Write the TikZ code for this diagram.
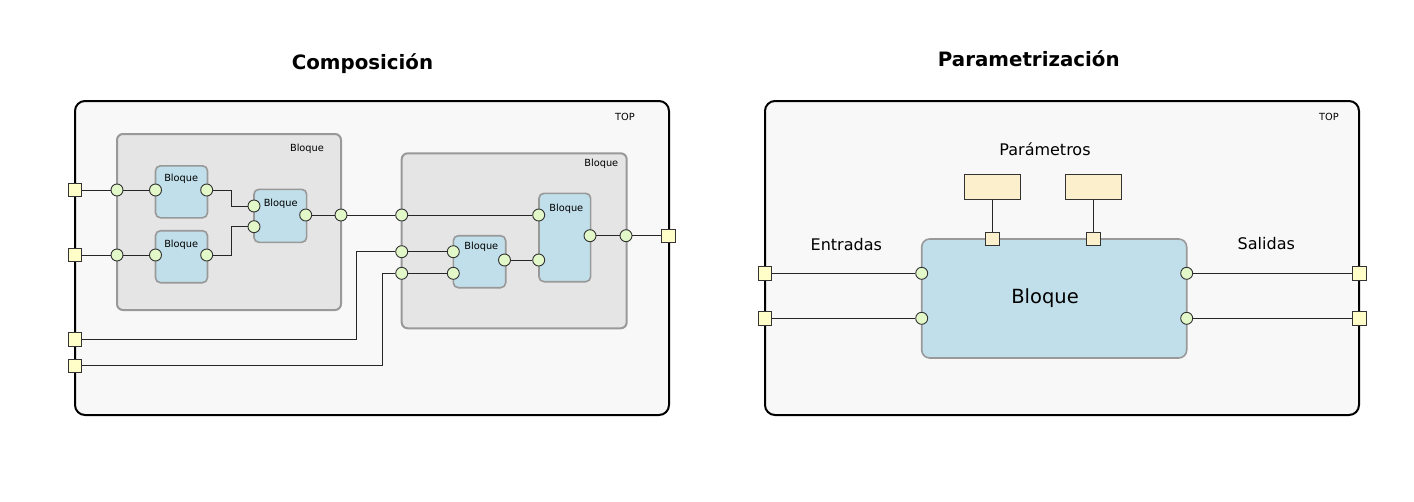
\documentclass[tikz,border=0pt]{standalone}
\usepackage{fontspec}
\setmainfont{DejaVu Sans}
\usepackage{tikz}
\definecolor{TopFill}{RGB}{248,248,248}
\definecolor{BlkFill}{RGB}{229,229,229}
\definecolor{SubFill}{RGB}{193,223,234}
\definecolor{PinFill}{RGB}{226,248,200}
\definecolor{PadFill}{RGB}{255,253,200}
\definecolor{PrmFill}{RGB}{252,239,204}
\definecolor{EdgeGray}{RGB}{153,153,153}

\begin{document}
\begin{tikzpicture}[x=1pt,y=-1pt,
  top/.style 2 args={rectangle,draw=black,line width=2pt,fill=TopFill,rounded corners=10pt,minimum width=#1pt,minimum height=#2pt,inner sep=0pt},
  blk/.style 2 args={rectangle,draw=EdgeGray,line width=2pt,fill=BlkFill,rounded corners=6pt,minimum width=#1pt,minimum height=#2pt,inner sep=0pt},
  sub/.style 2 args={rectangle,draw=EdgeGray,line width=1.6pt,fill=SubFill,rounded corners=5pt,minimum width=#1pt,minimum height=#2pt,inner sep=0pt},
  pin/.style={circle,draw=black!80,line width=0.9pt,fill=PinFill,minimum size=12pt,inner sep=0pt},
  pad/.style={rectangle,draw=black!80,line width=0.9pt,fill=PadFill,minimum size=13.5pt,inner sep=0pt},
  knob/.style={pad,fill=PrmFill},
  prm/.style={rectangle,draw=black!80,line width=0.9pt,fill=PrmFill,minimum width=56pt,minimum height=25pt,inner sep=0pt},
  wire/.style={draw=black!85,line width=1pt},
  ttl/.style={font=\fontsize{19.8}{23}\selectfont\bfseries,inner sep=0pt,anchor=base},
  txt/.style={font=\fontsize{16}{19}\selectfont,inner sep=0pt,anchor=base},
  big/.style={font=\fontsize{19.5}{22}\selectfont,inner sep=0pt,anchor=base},
  tag/.style={font=\fontsize{9.8}{12}\selectfont,inner sep=0pt,anchor=base}]
\useasboundingbox (0,0) rectangle (1414,501);

% titles
\node[ttl] (ttlA) at (362.5,69.3) {Composición};
\node[ttl] (ttlB) at (1028.8,66.7) {Parametrización};

%%% Composicion
\node[top={594}{314}] (topA) at (372,258) {};
\node[tag] (topAl) at (625,120) {TOP};
\node[blk={224}{176}] (g1) at (229,222) {};
\node[tag] (g1l) at (307,151) {Bloque};
\node[blk={225}{175}] (g2) at (514.2,240.8) {};
\node[tag] (g2l) at (601.3,166.7) {Bloque};
\node[sub={52}{52}] (b1) at (181.5,191.8) {};
\node[tag] (b1l) at (181.2,181.7) {Bloque};
\node[sub={52}{52}] (b2) at (181.5,256.7) {};
\node[tag] (b2l) at (181.2,247.3) {Bloque};
\node[sub={52.7}{53}] (b3) at (280.3,215.8) {};
\node[tag] (b3l) at (280.7,206.7) {Bloque};
\node[sub={52.4}{52}] (b4) at (479.5,261.7) {};
\node[tag] (b4l) at (481.3,249.3) {Bloque};
\node[sub={51.7}{88.4}] (b5) at (564.8,237.5) {};
\node[tag] (b5l) at (566.3,211.3) {Bloque};

\coordinate (k1) at (231,0);
\coordinate (k2) at (356,0);
\coordinate (k3) at (382,0);

\node[pad] (pA1) at (75,190) {};
\node[pad] (pA2) at (75,255) {};
\node[pad] (pA3) at (75,339.3) {};
\node[pad] (pA4) at (75,365.7) {};
\node[pad] (pA5) at (668.5,235.7) {};
\node[pin] (g1i1) at (117,190) {};
\node[pin] (g1i2) at (117,255) {};
\node[pin] (g1o) at (341,215) {};
\node[pin] (b1i) at (155.5,190) {};
\node[pin] (b1o) at (206.7,190) {};
\node[pin] (b2i) at (155.5,255) {};
\node[pin] (b2o) at (206.7,255) {};
\node[pin] (b3i1) at (254,206) {};
\node[pin] (b3i2) at (254,226.7) {};
\node[pin] (b3o) at (305.7,215) {};
\node[pin] (g2i1) at (401.7,215) {};
\node[pin] (g2i2) at (401.7,251.7) {};
\node[pin] (g2i3) at (401.7,273.3) {};
\node[pin] (g2o) at (626,235.7) {};
\node[pin] (b4i1) at (453.3,251.7) {};
\node[pin] (b4i2) at (453.3,273.3) {};
\node[pin] (b4o) at (504.5,260) {};
\node[pin] (b5i1) at (538.7,215) {};
\node[pin] (b5i2) at (538.7,260) {};
\node[pin] (b5o) at (590,235.7) {};

\draw[wire] (pA1) -- (g1i1) (g1i1) -- (b1i);
\draw[wire] (pA2) -- (g1i2) (g1i2) -- (b2i);
\draw[wire] (b1o) -| (k1 |- b3i1) -- (b3i1);
\draw[wire] (b2o) -| (k1 |- b3i2) -- (b3i2);
\draw[wire] (b3o) -- (g1o) (g1o) -- (g2i1) (g2i1) -- (b5i1);
\draw[wire] (g2i2) -- (b4i1) (g2i3) -- (b4i2) (b4o) -- (b5i2);
\draw[wire] (b5o) -- (g2o) (g2o) -- (pA5);
\draw[wire] (pA3) -| (k2 |- g2i2) -- (g2i2);
\draw[wire] (pA4) -| (k3 |- g2i3) -- (g2i3);

%%% Parametrizacion
\node[top={594}{314}] (topB) at (1062,258) {};
\node[tag] (topBl) at (1329,120) {TOP};
\node[sub={265}{119},rounded corners=8pt] (bb) at (1054.2,298.5) {};
\node[big] (bbl) at (1045,303.3) {Bloque};
\node[txt] (ent) at (846.3,250.7) {Entradas};
\node[txt] (sal) at (1266.3,249.3) {Salidas};
\node[txt] (par) at (1045,155) {Parámetros};
\node[prm] (prm1) at (992.5,186.8) {};
\node[prm] (prm2) at (1093.5,186.8) {};
\node[knob] (kn1) at (992.5,239) {};
\node[knob] (kn2) at (1093.5,239) {};

\node[pad] (pB1) at (765,273.3) {};
\node[pad] (pB2) at (765,318.3) {};
\node[pad] (pB3) at (1359.3,273.3) {};
\node[pad] (pB4) at (1359.3,318.3) {};
\node[pin] (bi1) at (921.7,273.3) {};
\node[pin] (bi2) at (921.7,318.3) {};
\node[pin] (bo1) at (1186.7,273.3) {};
\node[pin] (bo2) at (1186.7,318.3) {};

\draw[wire] (pB1) -- (bi1) (pB2) -- (bi2);
\draw[wire] (bo1) -- (pB3) (bo2) -- (pB4);
\draw[wire] (prm1) -- (kn1) (prm2) -- (kn2);
\end{tikzpicture}
\end{document}
